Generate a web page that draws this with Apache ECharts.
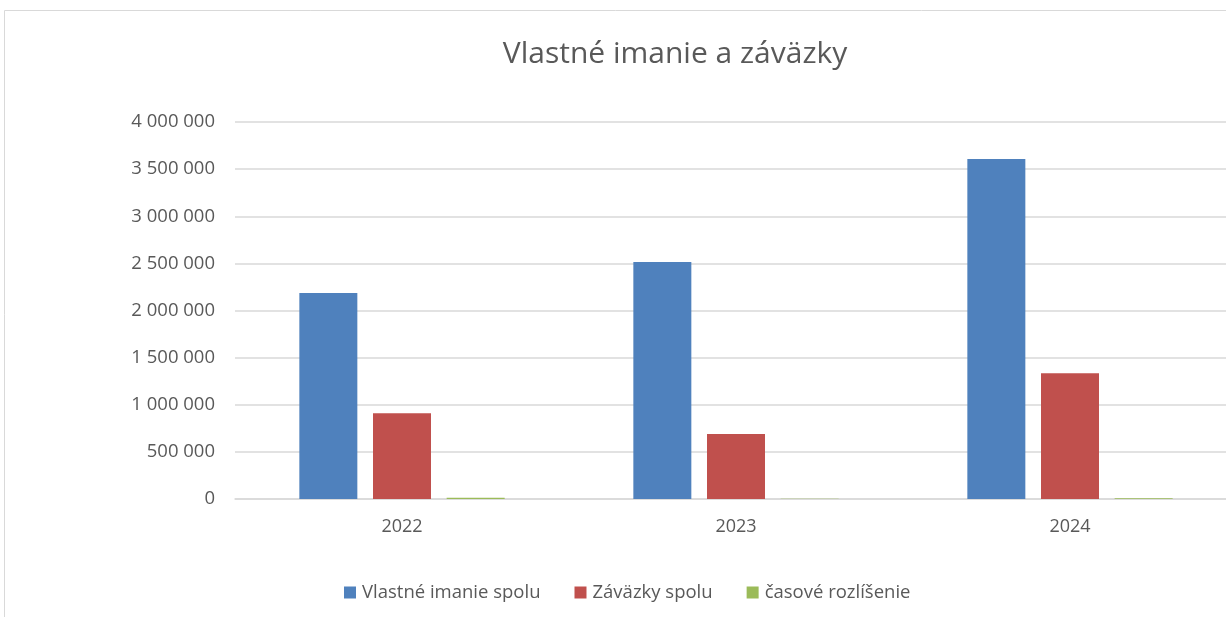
<!DOCTYPE html>
<html>
<head>
<meta charset="utf-8">
<script src="https://cdn.jsdelivr.net/npm/echarts@6/dist/echarts.min.js"></script>
<style>
  html, body { margin: 0; padding: 0; background: #fff; }
  #chart { width: 1226px; height: 617px; }
</style>
</head>
<body>
<div id="chart"></div>
<script>
// roky (kategórie osi x)
const years = ['2022', '2023', '2024']
// hodnoty odčítané z grafu
const vlastneImanie = [2185000, 2515000, 3607000]
const zavazky = [910000, 690000, 1334000]
const casoveRozlisenie = [12000, 3000, 9000]
const seriesNames = ['Vlastné imanie spolu', 'Záväzky spolu', 'časové rozlíšenie']
const colors = ['#4f81bd', '#c0504d', '#9bbb59']

const font = 'Open Sans'
const textColor = '#595959'

const chart = echarts.init(document.getElementById('chart'))

// formát s medzerou ako oddeľovačom tisícov
function fmt (v) {
  return String(v).replace(/\B(?=(\d{3})+(?!\d))/g, ' ')
}

const seriesData = [vlastneImanie, zavazky, casoveRozlisenie]
const series = seriesData.map((data, i) => ({
  name: seriesNames[i],
  type: 'bar',
  data: data,
  barWidth: 58,
  barGap: '27%',
  itemStyle: { color: colors[i] }
}))

chart.setOption({
  animation: false,
  color: colors,
  title: {
    text: 'Vlastné imanie a záväzky',
    left: 670,
    top: 34,
    textAlign: 'center',
    textStyle: { fontFamily: font, fontSize: 30, fontWeight: 'normal', color: textColor }
  },
  graphic: [{
    type: 'rect',
    shape: { x: 4.5, y: 10.5, width: 1400, height: 800 },
    style: { fill: 'none', stroke: '#d9d9d9', lineWidth: 1 },
    silent: true
  }],
  legend: {
    top: 578,
    left: 339,
    itemWidth: 12,
    itemHeight: 12,
    itemGap: 34,
    icon: 'rect',
    textStyle: { fontFamily: font, fontSize: 18.5, color: textColor, padding: [0, 0, 0, 1] },
    data: seriesNames
  },
  grid: {
    left: 235,
    top: 122,
    width: 1002,
    height: 377,
    outerBoundsMode: 'none',
    containLabel: false
  },
  xAxis: {
    type: 'category',
    data: years,
    axisTick: { show: false },
    axisLine: { lineStyle: { color: '#d9d9d9', width: 1.5 } },
    axisLabel: { fontFamily: font, fontSize: 18, color: textColor, margin: 19 }
  },
  yAxis: {
    type: 'value',
    min: 0,
    max: 4000000,
    interval: 500000,
    axisLine: { show: false },
    axisTick: { show: false },
    splitLine: { lineStyle: { color: '#d9d9d9', width: 1.5 } },
    axisLabel: { fontFamily: font, fontSize: 18.5, color: textColor, margin: 20, formatter: fmt }
  },
  series: series
})
</script>
</body>
</html>
